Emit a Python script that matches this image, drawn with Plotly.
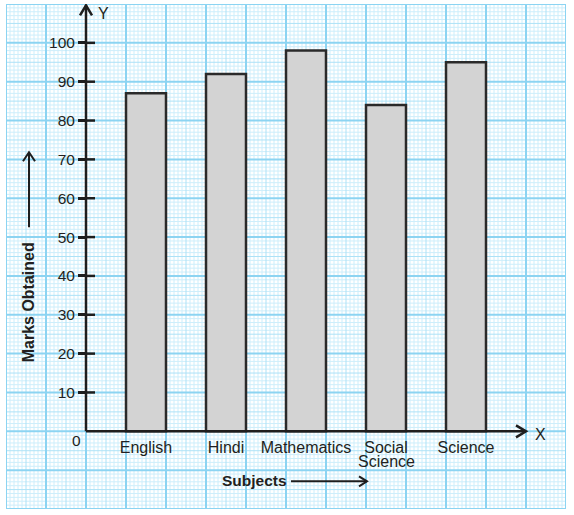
import plotly.graph_objects as go

# ---- data ----
subjects = ["English", "Hindi", "Mathematics", "Social Science", "Science"]
marks = [87, 92, 98, 84, 95]
y_ticks = [10, 20, 30, 40, 50, 60, 70, 80, 90, 100]

# ---- geometry helpers (pixel -> data) ----
PX_PER_X = 40.0
PX_PER_Y = 505.0 / 130.0
X0_PX, Y0_PX = 86.0, 431.0


def X(px):
    return (px - X0_PX) / PX_PER_X


def Y(py):
    return (Y0_PX - py) / PX_PER_Y


xpos = [1.5 + 2 * i for i in range(len(subjects))]
# first word on the axis; any second word set as a tight second line
tick_text = [s.split(" ")[0] for s in subjects]
second_lines = [(xp, " ".join(s.split(" ")[1:])) for xp, s in zip(xpos, subjects) if " " in s]

fig = go.Figure()
fig.add_trace(go.Bar(
    x=xpos, y=marks, width=1,
    marker=dict(color="#d3d3d3", line=dict(color="#2a2a2a", width=2.5)),
    hoverinfo="skip",
))

shapes = []
# graph-paper grid
MINOR, MED, MAJOR = "#cdeefb", "#ade2f7", "#8cd4f2"
for level in (0, 1, 2):
    for k in range(141):
        lv = 2 if k % 10 == 0 else (1 if k % 5 == 0 else 0)
        if lv != level:
            continue
        xv = -2 + k * 0.1
        shapes.append(dict(type="line", xref="x", yref="y", x0=xv, x1=xv, y0=-20, y1=110,
                           layer="below",
                           line=dict(color=[MINOR, MED, MAJOR][lv], width=[1, 1, 2][lv])))
    for k in range(131):
        lv = 2 if k % 10 == 0 else (1 if k % 5 == 0 else 0)
        if lv != level:
            continue
        yv = -20 + k
        shapes.append(dict(type="line", xref="x", yref="y", x0=-2, x1=12, y0=yv, y1=yv,
                           layer="below",
                           line=dict(color=[MINOR, MED, MAJOR][lv], width=[1, 1, 2][lv])))

AX = dict(color="#1e1e1e", width=2.5)
# axes lines
shapes.append(dict(type="line", xref="x", yref="y", x0=0, x1=0, y0=0, y1=Y(5), line=AX))
shapes.append(dict(type="line", xref="x", yref="y", x0=0, x1=X(526), y0=0, y1=0, line=AX))
# arrow heads
shapes.append(dict(type="path", xref="x", yref="y",
                   path=f"M {X(80)},{Y(15)} L 0,{Y(5)} L {X(92)},{Y(15)}", line=AX))
shapes.append(dict(type="path", xref="x", yref="y",
                   path=f"M {X(516)},{Y(425)} L {X(526)},0 L {X(516)},{Y(437)}", line=AX))
# inner half of y ticks
for t in y_ticks:
    shapes.append(dict(type="line", xref="x", yref="y", x0=0, x1=X(95), y0=t, y1=t, line=AX))
# Subjects arrow
shapes.append(dict(type="line", xref="x", yref="y", x0=X(291), x1=X(367), y0=Y(481), y1=Y(481),
                   line=dict(color="#1e1e1e", width=2)))
shapes.append(dict(type="path", xref="x", yref="y",
                   path=f"M {X(359)},{Y(476)} L {X(367)},{Y(481)} L {X(359)},{Y(486)}",
                   line=dict(color="#1e1e1e", width=2)))
# Marks Obtained arrow
shapes.append(dict(type="line", xref="x", yref="y", x0=X(29), x1=X(29), y0=Y(227), y1=Y(152),
                   line=dict(color="#1e1e1e", width=2)))
shapes.append(dict(type="path", xref="x", yref="y",
                   path=f"M {X(23)},{Y(161)} L {X(29)},{Y(152)} L {X(35)},{Y(161)}",
                   line=dict(color="#1e1e1e", width=2)))

TXT = "#231f20"
FONT = "Liberation Sans, Arial, sans-serif"
annotations = [
    dict(x=X(76), y=Y(440), text="0", showarrow=False, font=dict(size=15.5, color=TXT)),
    dict(x=X(103), y=Y(13), text="Y", showarrow=False, font=dict(size=16, color=TXT)),
    dict(x=X(540), y=Y(434), text="X", showarrow=False, font=dict(size=16, color=TXT)),
    dict(x=X(254), y=Y(480), text="<b>Subjects</b>", showarrow=False, font=dict(size=15.5, color=TXT)),
    dict(x=X(28), y=Y(302), text="<b>Marks Obtained</b>", showarrow=False, textangle=-90,
         font=dict(size=16, color=TXT)),
]
for xp, txt in second_lines:
    annotations.append(dict(x=xp, y=Y(461), text=txt, showarrow=False,
                            font=dict(size=16, color=TXT)))

fig.update_layout(
    width=574, height=515,
    margin=dict(l=6, r=8, t=4, b=6),
    paper_bgcolor="white", plot_bgcolor="white",
    font=dict(family=FONT, color=TXT),
    showlegend=False,
    shapes=shapes,
    annotations=annotations,
    xaxis=dict(range=[-2, 12], showgrid=False, zeroline=False, showline=False,
               tickmode="array", tickvals=xpos, ticktext=tick_text,
               anchor="free", position=20 / 130, ticks="", ticklabelstandoff=5,
               tickfont=dict(size=16, color=TXT), fixedrange=True),
    yaxis=dict(range=[-20, 110], showgrid=False, zeroline=False, showline=False,
               tickmode="array", tickvals=y_ticks,
               anchor="free", position=2 / 14, ticks="outside", ticklen=8, tickwidth=2.5,
               tickcolor="#1e1e1e", tickfont=dict(size=15.5, color=TXT), fixedrange=True),
)

fig.write_html("out.html")
